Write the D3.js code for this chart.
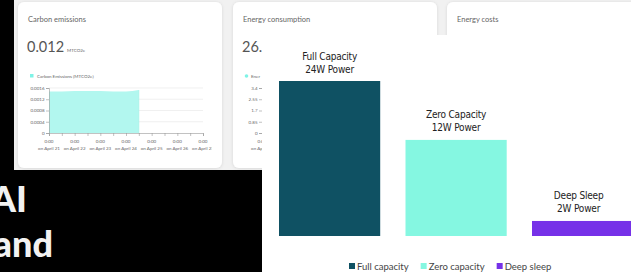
<!DOCTYPE html>
<html><head><meta charset="utf-8">
<script src="https://cdn.jsdelivr.net/npm/d3@7"></script>
<style>html,body{margin:0;padding:0;background:#000;}svg{display:block;}</style>
</head><body>
<svg id="c" width="631" height="272"></svg>
<script>
// ---- main bar chart data ----
const categories = ["Full capacity", "Zero capacity", "Deep sleep"];
const labelTop = ["Full Capacity", "Zero Capacity", "Deep Sleep"];
const labelBottom = ["24W Power", "12W Power", "2W Power"];
const barHeights = [100, 62, 9.7]; // relative bar height as drawn (%)
const colors = ["#0f5163", "#85f7e1", "#7631e8"];

// ---- background dashboard data ----
const cardTitles = ["Carbon emissions", "Energy consumption", "Energy costs"];
const carbonTicks = [0, 0.0004, 0.0008, 0.0012, 0.0016];
const carbonTickLabels = ["0", "0.0004", "0.0008", "0.0012", "0.0016"];
const dayLabels = ["on April 21", "on April 22", "on April 23", "on April 24", "on April 25", "on April 26", "on April 27"];
const carbonDays = [0, 0.5, 1, 1.5, 2, 2.5, 3, 3.5];
const carbonValues = [0.00148, 0.00148, 0.00149, 0.00149, 0.00149, 0.00148, 0.00148, 0.00153];
const energyTickLabels = ["0", "0.85", "1.7", "2.55", "3.4"];
const energyTicks = [0, 0.85, 1.7, 2.55, 3.4];

const svg = d3.select("#c");
const font = "Lato, 'Open Sans', sans-serif";

const defs = svg.append("defs");
const f = defs.append("filter").attr("id", "sh").attr("x", "-10%").attr("y", "-10%").attr("width", "120%").attr("height", "120%");
f.append("feDropShadow").attr("dx", 0).attr("dy", 0.5).attr("stdDeviation", 1.5).attr("flood-color", "#000").attr("flood-opacity", 0.12);
defs.append("clipPath").attr("id", "clip1").append("rect").attr("x", 18).attr("y", 0).attr("width", 194).attr("height", 170);

// background
svg.append("rect").attr("width", 631).attr("height", 272).attr("fill", "#000");
svg.append("rect").attr("x", 14).attr("y", 0).attr("width", 617).attr("height", 170).attr("fill", "#f1f1f1");

const cards = [{x: 18, w: 204}, {x: 233, w: 204}, {x: 447, w: 200}];
cards.forEach((c, i) => {
  svg.append("rect").attr("x", c.x).attr("y", 2).attr("width", c.w).attr("height", 166)
    .attr("rx", 6).attr("fill", "#fff").attr("filter", "url(#sh)");
  svg.append("text").attr("x", c.x + 10).attr("y", 22).attr("font-family", font)
    .attr("font-size", 7.5).attr("fill", "#666").text(cardTitles[i]);
});

// card 1 big number
svg.append("text").attr("x", 27).attr("y", 52).attr("font-family", font).attr("font-size", 14.5)
  .attr("fill", "#555").text("0.012");
svg.append("text").attr("x", 67).attr("y", 51.5).attr("font-family", font).attr("font-size", 4.5)
  .attr("fill", "#666").text("MTCO2e");
svg.append("rect").attr("x", 30).attr("y", 74).attr("width", 3.5).attr("height", 3.5).attr("fill", "#7ff3e6");
svg.append("text").attr("x", 37).attr("y", 77.5).attr("font-family", font).attr("font-size", 4.5)
  .attr("fill", "#666").text("Carbon Emissions (MTCO2e)");

// card 1 mini chart
const g1 = svg.append("g").attr("clip-path", "url(#clip1)");
const xs1 = d3.scaleLinear().domain([0, 6]).range([49, 203]);
const ys1 = d3.scaleLinear().domain([0, 0.0016]).range([133, 88]);
g1.selectAll("line.grid").data(carbonTicks.slice(1)).join("line")
  .attr("x1", 49).attr("x2", 203).attr("y1", d => ys1(d)).attr("y2", d => ys1(d))
  .attr("stroke", "#e6e6e6").attr("stroke-width", 0.6);
const area = d3.area().x((d, i) => xs1(carbonDays[i])).y0(ys1(0)).y1(d => ys1(d)).curve(d3.curveMonotoneX);
g1.append("path").datum(carbonValues).attr("d", area).attr("fill", "#b2f7ef");
g1.append("line").attr("x1", xs1(3.5)).attr("x2", xs1(3.5)).attr("y1", ys1(carbonValues[7])).attr("y2", 133)
  .attr("stroke", "#9ef0e6").attr("stroke-width", 0.6);
const yAx1 = g1.append("g").attr("transform", "translate(49,0)")
  .call(d3.axisLeft(ys1).tickValues(carbonTicks).tickFormat((d, i) => carbonTickLabels[i]).tickSize(3).tickPadding(1.5));
const xAx1 = g1.append("g").attr("transform", "translate(0,133)")
  .call(d3.axisBottom(xs1).tickValues(d3.range(0, 6.01, 0.5)).tickFormat("").tickSize(3));
[yAx1, xAx1].forEach(a => {
  a.select(".domain").attr("stroke", "#999").attr("stroke-width", 0.6);
  a.selectAll(".tick line").attr("stroke", "#999").attr("stroke-width", 0.6);
  a.selectAll("text").attr("font-family", font).attr("font-size", 4.5).attr("fill", "#666");
});
const xl = g1.selectAll("g.xl").data(dayLabels).join("g").attr("class", "xl")
  .attr("transform", (d, i) => `translate(${xs1(i)},0)`);
xl.append("text").attr("y", 142.5).attr("text-anchor", "middle").attr("font-family", font)
  .attr("font-size", 4.5).attr("fill", "#666").text("0:00");
xl.append("text").attr("y", 149.5).attr("text-anchor", "middle").attr("font-family", font)
  .attr("font-size", 4.5).attr("fill", "#666").text(d => d);

// card 2 (mostly hidden)
svg.append("text").attr("x", 242).attr("y", 52).attr("font-family", font).attr("font-size", 14.5)
  .attr("fill", "#555").text("26.");
svg.append("circle").attr("cx", 246.5).attr("cy", 76).attr("r", 1.8).attr("fill", "#7ff3e6");
svg.append("text").attr("x", 251).attr("y", 77.5).attr("font-family", font).attr("font-size", 4.5)
  .attr("fill", "#666").text("Ener");
const ys2 = d3.scaleLinear().domain([0, 3.4]).range([133, 88]);
const yAx2 = svg.append("g").attr("transform", "translate(262,0)")
  .call(d3.axisLeft(ys2).tickValues(energyTicks).tickFormat((d, i) => energyTickLabels[i]).tickSize(3).tickPadding(1.5));
yAx2.select(".domain").attr("stroke", "#999").attr("stroke-width", 0.6);
yAx2.selectAll(".tick line").attr("stroke", "#999").attr("stroke-width", 0.6);
yAx2.selectAll("text").attr("font-family", font).attr("font-size", 4.5).attr("fill", "#666");
svg.append("text").attr("x", 262).attr("y", 142.5).attr("text-anchor", "middle").attr("font-family", font)
  .attr("font-size", 4.5).attr("fill", "#666").text("0:00");
svg.append("text").attr("x", 262).attr("y", 149.5).attr("text-anchor", "middle").attr("font-family", font)
  .attr("font-size", 4.5).attr("fill", "#666").text(dayLabels[0]);

// big white text bottom-left (cut at the left edge, as in the reference)
svg.append("text").attr("x", 27).attr("y", 212).attr("text-anchor", "end").attr("font-family", font)
  .attr("font-weight", 900).attr("font-size", 36).attr("fill", "#f2f2f2").text("AI");
svg.append("text").attr("x", 53).attr("y", 257).attr("text-anchor", "end").attr("font-family", font)
  .attr("font-weight", 900).attr("font-size", 36).attr("fill", "#f2f2f2").text("and");

// ---- overlay bar chart ----
svg.append("rect").attr("x", 262).attr("y", 35).attr("width", 369).attr("height", 237).attr("fill", "#fff");
const x = d3.scaleBand().domain(categories).range([266.35, 645.85]).paddingInner(0.2).paddingOuter(0.1);
const y = d3.scaleLinear().domain([0, 100]).range([236, 81]);
const bars = svg.append("g");
bars.selectAll("rect").data(categories).join("rect")
  .attr("x", d => x(d)).attr("width", x.bandwidth())
  .attr("y", (d, i) => y(barHeights[i])).attr("height", (d, i) => y(0) - y(barHeights[i]))
  .attr("fill", (d, i) => colors[i]);
const lab = svg.append("g").selectAll("g").data(categories).join("g")
  .attr("transform", (d, i) => `translate(${x(d) + x.bandwidth() / 2 - (i === 2 ? 4 : 0)},${y(barHeights[i])})`);
const tf = "'DejaVu Sans Condensed', 'Liberation Sans Narrow', Roboto, sans-serif";
lab.append("text").attr("y", -21.5).attr("text-anchor", "middle").attr("font-family", tf)
  .attr("font-size", 10).attr("letter-spacing", -0.2).attr("fill", "#222").text((d, i) => labelTop[i]);
lab.append("text").attr("y", -8.5).attr("text-anchor", "middle").attr("font-family", tf)
  .attr("font-size", 10).attr("letter-spacing", -0.2).attr("fill", "#222").text((d, i) => labelBottom[i]);

// legend
let lx = 349;
categories.forEach((c, i) => {
  svg.append("rect").attr("x", lx).attr("y", 263).attr("width", 6).attr("height", 6).attr("fill", colors[i]);
  const t = svg.append("text").attr("x", lx + 8).attr("y", 269.5).attr("font-family", font)
    .attr("font-size", 9.5).attr("fill", "#444").text(c);
  lx += 8 + t.node().getComputedTextLength() + 12;
});
</script>
</body></html>
